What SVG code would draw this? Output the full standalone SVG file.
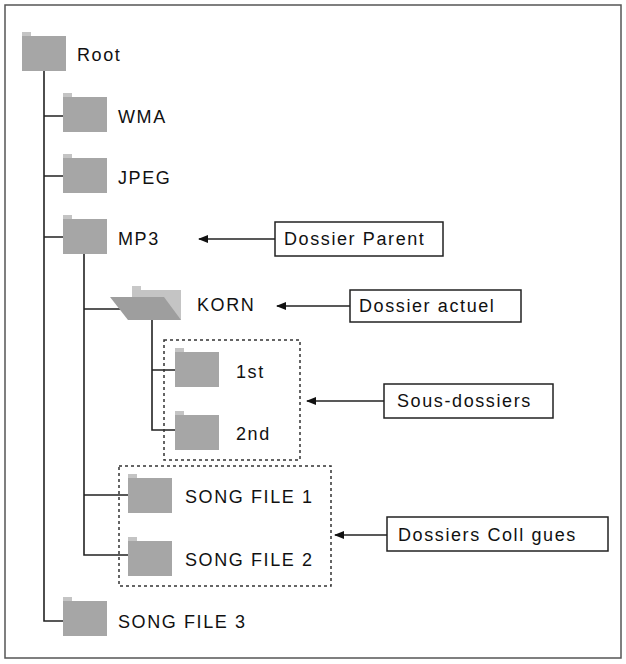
<svg xmlns="http://www.w3.org/2000/svg" width="626" height="664" viewBox="0 0 626 664">
<style>
text{font-family:"Liberation Sans",Arial,sans-serif;font-size:18px;fill:#111;letter-spacing:1.6px}
.f{fill:#a6a6a6}
.ln{stroke:#222;stroke-width:1.6;fill:none}
.box{fill:#fff;stroke:#222;stroke-width:1.5}
.dash{fill:none;stroke:#333;stroke-width:1.5;stroke-dasharray:3,3}
</style>
<defs>
<marker id="ah" markerWidth="10" markerHeight="8" refX="9" refY="4" orient="auto" markerUnits="userSpaceOnUse"><path d="M0,4 L10,0 L10,8 Z" fill="#111" transform="rotate(180 5 4)"/></marker>
<g id="fold"><rect x="0" y="-4" width="9" height="6" fill="#c4c4c4"/><rect x="0" y="0" width="44" height="35" class="f"/></g>
</defs>
<rect x="5" y="5" width="616" height="653" fill="#fff" stroke="#555" stroke-width="1.5"/>
<g id="connectors">
<path class="ln" d="M44 71V621H63M44 116H63M44 176H63M44 237H63"/>
<path class="ln" d="M84 254V555H128M84 309H128M84 495H128"/>
<path class="ln" d="M152 320V430H175M152 370H175"/>
<line class="ln" x1="275" y1="239" x2="199" y2="239" marker-end="url(#ah)"/>
<line class="ln" x1="350" y1="306" x2="277" y2="306" marker-end="url(#ah)"/>
<line class="ln" x1="384" y1="401" x2="307" y2="401" marker-end="url(#ah)"/>
<line class="ln" x1="387" y1="535" x2="335" y2="535" marker-end="url(#ah)"/>
</g>
<g id="root"><use href="#fold" x="22" y="36"/><text x="77" y="61">Root</text></g>
<g id="wma"><use href="#fold" x="63" y="97"/><text x="118" y="123">WMA</text></g>
<g id="jpeg"><use href="#fold" x="63" y="158"/><text x="118" y="184">JPEG</text></g>
<g id="mp3"><use href="#fold" x="63" y="219"/><text x="118" y="245">MP3</text></g>
<g id="korn">
<rect x="132" y="286" width="9" height="5" fill="#c8c8c8"/>
<rect x="132" y="290" width="49" height="30" fill="#c4c4c4"/>
<polygon points="110,297 164,297 181,320 128,320" fill="#9e9e9e"/>
<text x="197" y="311">KORN</text></g>
<g id="sous">
<rect class="dash" x="164" y="340" width="136" height="120"/>
<g id="first"><use href="#fold" x="175" y="352"/><text x="236" y="378">1st</text></g>
<g id="second"><use href="#fold" x="175" y="415"/><text x="236" y="440">2nd</text></g>
</g>
<g id="coll">
<rect class="dash" x="119" y="466" width="212" height="120"/>
<g id="sf1"><use href="#fold" x="128" y="478"/><text x="185" y="503">SONG FILE 1</text></g>
<g id="sf2"><use href="#fold" x="128" y="541"/><text x="185" y="566">SONG FILE 2</text></g>
</g>
<g id="sf3"><use href="#fold" x="63" y="601"/><text x="118" y="628">SONG FILE 3</text></g>
<g id="lbl-parent"><rect class="box" x="275" y="222" width="168" height="34"/><text x="284" y="245">Dossier Parent</text></g>
<g id="lbl-actuel"><rect class="box" x="350" y="290" width="171" height="32"/><text x="359" y="312">Dossier actuel</text></g>
<g id="lbl-sous"><rect class="box" x="384" y="384" width="169" height="34"/><text x="397" y="407">Sous-dossiers</text></g>
<g id="lbl-coll"><rect class="box" x="387" y="517" width="221" height="34"/><text x="398" y="541">Dossiers Coll gues</text></g>
</svg>
